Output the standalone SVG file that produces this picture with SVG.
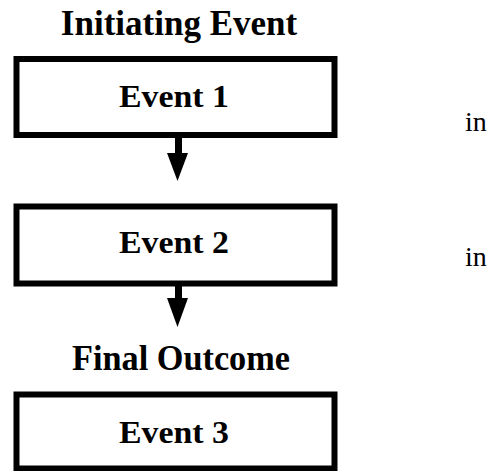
<svg xmlns="http://www.w3.org/2000/svg" width="496" height="471" viewBox="0 0 496 471">
<defs>
<style>
.box{fill:#fff;stroke:#000;stroke-width:6}
.lbl{font-family:"Liberation Serif","Times New Roman",serif;font-weight:bold;fill:#000;text-anchor:middle}
.ev{font-size:31px}
.hd{font-size:35px}
.side{font-family:"Liberation Serif","Times New Roman",serif;font-size:28px;fill:#000}
.stem{stroke:#000;stroke-width:7;fill:none}
.head{fill:#000}
</style>
</defs>
<rect width="496" height="471" fill="#fff"/>
<text class="lbl hd" x="179" y="35">Initiating Event</text>
<g id="event1">
<rect class="box" x="16.5" y="59" width="318" height="76"/>
<text class="lbl ev" x="174" y="107" textLength="110" lengthAdjust="spacingAndGlyphs">Event 1</text>
</g>
<g id="event2">
<rect class="box" x="16.5" y="206.5" width="318" height="77"/>
<text class="lbl ev" x="174" y="253" textLength="110" lengthAdjust="spacingAndGlyphs">Event 2</text>
</g>
<text class="lbl hd" x="181" y="370" textLength="218" lengthAdjust="spacingAndGlyphs">Final Outcome</text>
<g id="event3">
<rect class="box" x="16.5" y="394.5" width="318" height="74"/>
<text class="lbl ev" x="174" y="443" textLength="110" lengthAdjust="spacingAndGlyphs">Event 3</text>
</g>
<g id="connectors">
<line class="stem" x1="178.5" y1="137" x2="178.5" y2="155"/>
<polygon class="head" points="167,153 188,153 177.5,181"/>
<line class="stem" x1="178.5" y1="285" x2="178.5" y2="300"/>
<polygon class="head" points="167,298 188,298 177.5,327"/>
</g>
<text class="side" x="465" y="131">in</text>
<text class="side" x="465" y="266">in</text>
</svg>
